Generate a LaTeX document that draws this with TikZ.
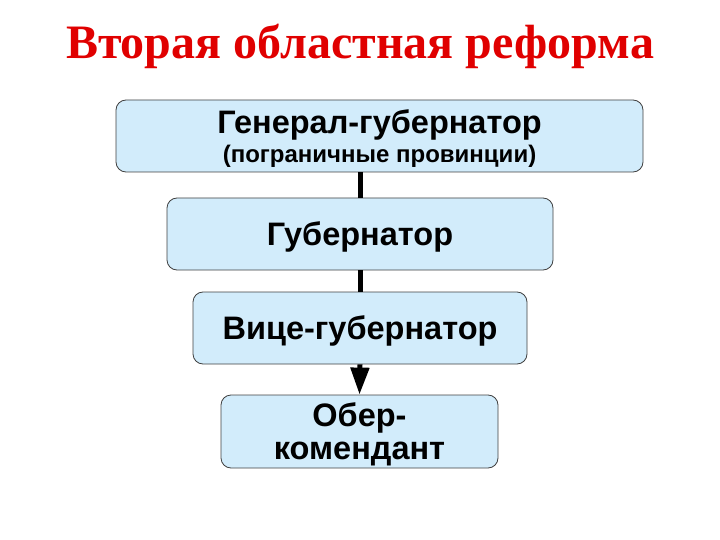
\documentclass[tikz,border=0pt]{standalone}
\usepackage{fontspec}
\setsansfont{Liberation Sans}
\newfontfamily\titlefont{Liberation Serif}
\usetikzlibrary{arrows.meta}
\definecolor{boxfill}{HTML}{D2ECFB}
\definecolor{boxline}{HTML}{404040}
\definecolor{titlered}{HTML}{E00000}

\begin{document}
\begin{tikzpicture}[x=1pt, y=-1pt,
        rank/.style={draw=boxline, fill=boxfill, rounded corners=10pt, line width=0.8pt,
            minimum height=72pt, align=center, inner sep=0pt, text depth=0pt,
            font=\sffamily\bfseries\fontsize{32.5}{33}\selectfont},
        link/.style={line width=5pt}]
        \useasboundingbox (0, 0) rectangle (720, 540);

        \node[font=\titlefont\bfseries\fontsize{48}{52}\selectfont, text=titlered] (title) at (360, 46) {Вторая областная реформа};

        \node[rank, minimum width=527pt] (gengub) at (379.5, 136) {Генерал-губернатор\\[-4pt]{\fontsize{24}{26}\selectfont (пограничные провинции)}};
        \node[rank, minimum width=386pt] (gub) at (360, 234) {Губернатор};
        \node[rank, minimum width=334pt] (vicegub) at (360, 328) {Вице-губернатор};
        \node[rank, minimum width=277pt, minimum height=73pt] (ober) at (359.5, 431.5) {Обер-\\комендант};

        \draw[link] (gub.north |- gengub.south) -- (gub.north);
        \draw[link] (gub.south) -- (vicegub.north);
        \draw[link, -{Triangle[width=18pt, length=27pt]}] (vicegub.south) -- (ober.north);
    \end{tikzpicture}
\end{document}
